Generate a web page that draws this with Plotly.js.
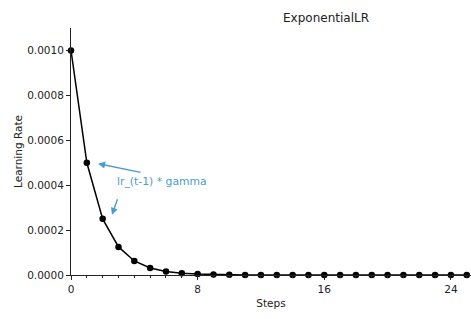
<!DOCTYPE html>
<html>
<head>
<meta charset="utf-8">
<script src="https://cdn.plot.ly/plotly-3.0.1.min.js"></script>
<style>
  html, body { margin: 0; padding: 0; background: #ffffff; }
  #chart { width: 471px; height: 319px; }
</style>
</head>
<body>
<div id="chart"></div>
<script>
// Learning rate per step under an exponential schedule (gamma = 0.5)
const steps = [0, 1, 2, 3, 4, 5, 6, 7, 8, 9, 10, 11, 12, 13, 14, 15, 16, 17, 18, 19, 20, 21, 22, 23, 24, 25];
const learningRate = [
  0.001, 0.0005, 0.00025, 0.000125, 0.0000625, 0.00003125, 0.000015625, 0.0000078125,
  0.0000039063, 0.0000019531, 0.00000097656, 0.00000048828, 0.00000024414, 0.00000012207,
  0.000000061035, 0.000000030518, 0.000000015259, 0.0000000076294, 0.0000000038147,
  0.0000000019073, 0.00000000095367, 0.00000000047684, 0.00000000023842, 0.00000000011921,
  0.000000000059605, 0.000000000029802
];
const xTicks = [0, 8, 16, 24];
const yTicks = [0, 0.0002, 0.0004, 0.0006, 0.0008, 0.0010];
const noteText = 'lr_(t-1) * gamma';

const font = 'DejaVu Sans, sans-serif';
const noteBlue = '#4a9ccd';

const trace = {
  x: steps,
  y: learningRate,
  type: 'scatter',
  mode: 'lines+markers',
  line: { color: '#000000', width: 1.5 },
  marker: { color: '#000000', size: 6.5 },
  cliponaxis: false,
  hoverinfo: 'skip'
};

const layout = {
  width: 471,
  height: 319,
  margin: { l: 71, r: 0, t: 28, b: 44, pad: 0 },
  paper_bgcolor: '#ffffff',
  plot_bgcolor: '#ffffff',
  showlegend: false,
  font: { family: font, size: 10.5, color: '#222222' },
  title: {
    text: 'ExponentialLR',
    font: { family: font, size: 12, color: '#222222' },
    xref: 'paper', x: 0.6375, xanchor: 'center',
    yref: 'container', y: 0.944, yanchor: 'middle'
  },
  xaxis: {
    range: [0, 25.27],
    tickvals: xTicks,
    ticktext: xTicks.map(String),
    ticks: 'outside', ticklen: 4, tickwidth: 1, tickcolor: '#222222',
    minor: { dtick: 1, tick0: 0, ticks: 'outside', ticklen: 2, tickwidth: 1, tickcolor: '#222222', showgrid: false },
    showline: true, linecolor: '#222222', linewidth: 1,
    showgrid: false, zeroline: false,
    tickfont: { family: font, size: 10.5, color: '#222222' },
    title: { text: 'Steps', font: { family: font, size: 10.5, color: '#222222' }, standoff: 6 }
  },
  yaxis: {
    range: [0, 0.0011],
    tickvals: yTicks,
    tickformat: '.4f',
    ticks: 'outside', ticklen: 4, tickwidth: 1, tickcolor: '#222222',
    showline: true, linecolor: '#222222', linewidth: 1,
    showgrid: false, zeroline: false,
    tickfont: { family: font, size: 10.5, color: '#222222' },
    title: { text: 'Learning Rate', font: { family: font, size: 10.5, color: '#222222' }, standoff: 2 }
  },
  annotations: [
    {
      x: 5.72, y: 0.000415, xref: 'x', yref: 'y',
      text: noteText, showarrow: false,
      font: { family: font, size: 10.8, color: noteBlue },
      xanchor: 'center', yanchor: 'middle'
    },
    {
      x: 1.71, y: 0.000496, xref: 'x', yref: 'y',
      text: '', showarrow: true,
      ax: 44, ay: 9,
      arrowhead: 2, arrowsize: 1, arrowwidth: 1.4, arrowcolor: noteBlue
    },
    {
      x: 2.59, y: 0.000268, xref: 'x', yref: 'y',
      text: '', showarrow: true,
      ax: 6, ay: -17,
      arrowhead: 2, arrowsize: 1, arrowwidth: 1.4, arrowcolor: noteBlue
    }
  ]
};

Plotly.newPlot('chart', [trace], layout, { displayModeBar: false, staticPlot: true });
</script>
</body>
</html>
